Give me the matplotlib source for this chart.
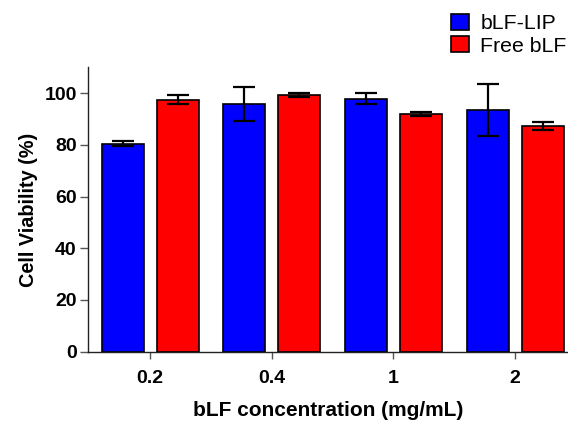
import numpy as np
import matplotlib
matplotlib.use("Agg")
import matplotlib.pyplot as plt
from matplotlib.patches import Patch

plt.rcParams['font.family'] = ['Liberation Sans', 'DejaVu Sans']

concentrations = ["0.2", "0.4", "1", "2"]
series_names = ["bLF-LIP", "Free bLF"]
lip_mean = [80.5, 95.9, 97.9, 93.5]
lip_err = [1.1, 6.6, 2.0, 9.9]
free_mean = [97.5, 99.2, 92.0, 87.3]
free_err = [1.8, 0.8, 0.8, 1.5]
colors = ["#0000ff", "#ff0000"]

fig = plt.figure(figsize=(5.68, 4.21), dpi=100)
ax = fig.add_axes([0.1549, 0.1646, 0.8451, 0.6755])

x = np.arange(len(concentrations))
width = 0.345
offset = 0.226
err_kw = dict(ecolor="black", elinewidth=1.6, capsize=7.8, capthick=1.6)

ax.bar(x - offset, lip_mean, width, yerr=lip_err, color=colors[0],
       edgecolor="black", linewidth=1.2, error_kw=err_kw, zorder=2)
ax.bar(x + offset, free_mean, width, yerr=free_err, color=colors[1],
       edgecolor="black", linewidth=1.2, error_kw=err_kw, zorder=2)

ax.set_xlim(-0.51, 3.435)
ax.set_ylim(0, 110)
ax.set_yticks([0, 20, 40, 60, 80, 100])
ax.set_xticks(x)
ax.set_xticklabels(concentrations)

for s in ["top", "right"]:
    ax.spines[s].set_visible(False)
for s in ["left", "bottom"]:
    ax.spines[s].set_linewidth(1.0)
    ax.spines[s].set_color("#222222")

ax.tick_params(axis="y", length=6, width=1.0, color="#555555", pad=2)
ax.tick_params(axis="x", length=5, width=1.0, color="#555555", pad=8)
for lab in ax.get_xticklabels() + ax.get_yticklabels():
    lab.set_fontweight("bold")
    lab.set_fontsize(14)

ax.set_ylabel("Cell Viability (%)", fontsize=14.3, fontweight="bold", labelpad=5)
ax.set_xlabel("bLF concentration (mg/mL)", fontsize=15, fontweight="bold", labelpad=10)

handles = [Patch(facecolor=c, edgecolor="black", linewidth=1.2) for c in colors]
fig.legend(handles, series_names, loc="upper right", bbox_to_anchor=(1.009, 0.983),
           frameon=False, fontsize=15.3, handlelength=0.85, handleheight=0.8,
           handletextpad=0.55, labelspacing=0.15, borderpad=0.3, borderaxespad=0.0)

fig.savefig("out.png", dpi=100)
